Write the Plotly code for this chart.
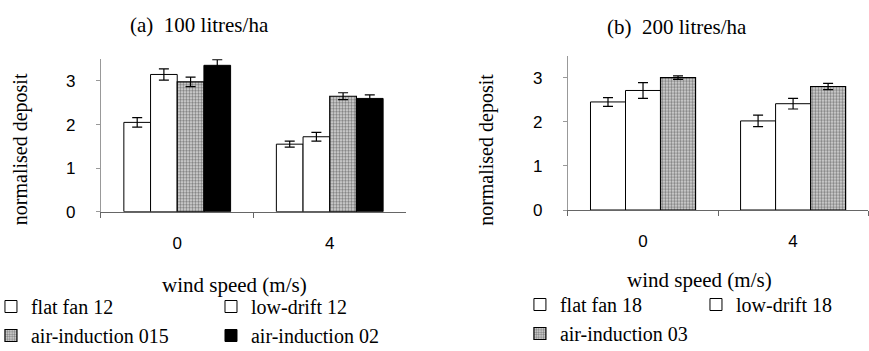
import plotly.graph_objects as go

# ---------------- data ----------------
wind_speed = ["0", "4"]

# (a) 100 litres/ha
a_names = ["flat fan 12", "low-drift 12", "air-induction 015", "air-induction 02"]
a_values = [[2.05, 1.55], [3.15, 1.72], [2.98, 2.65], [3.36, 2.60]]
a_errors = [[0.11, 0.07], [0.13, 0.10], [0.11, 0.08], [0.13, 0.08]]

# (b) 200 litres/ha
b_names = ["flat fan 18", "low-drift 18", "air-induction 03"]
b_values = [[2.45, 2.02], [2.71, 2.41], [3.00, 2.80]]
b_errors = [[0.10, 0.13], [0.18, 0.12], [0.04, 0.07]]

y_ticks = [0, 1, 2, 3]

SERIF = "Liberation Serif, Times New Roman, serif"
SANS = "Liberation Sans, Arial, sans-serif"

plain = dict(color="white", line=dict(color="black", width=1))
speckle = dict(color="white", line=dict(color="black", width=1.2),
               pattern=dict(shape=".", fgcolor="#222222", bgcolor="#dcdcdc",
                            size=3, solidity=0.5))
solid = dict(color="black", line=dict(color="black", width=1))
a_styles = [plain, plain, speckle, solid]
b_styles = [plain, plain, speckle]

# one legend box per entry, so the two-column layout of the original can be kept
a_legends = ["legend2", "legend3", "legend4", "legend5"]
b_legends = ["legend6", "legend7", "legend8"]

fig = go.Figure()
for name, vals, errs, st, lg in zip(a_names, a_values, a_errors, a_styles, a_legends):
    fig.add_trace(go.Bar(
        x=wind_speed, y=vals, name=name, marker=st, showlegend=True,
        error_y=dict(type="data", array=errs, color="black", thickness=1.2, width=5),
        xaxis="x", yaxis="y", legend=lg, offsetgroup=name,
    ))
for name, vals, errs, st, lg in zip(b_names, b_values, b_errors, b_styles, b_legends):
    fig.add_trace(go.Bar(
        x=wind_speed, y=vals, name=name, marker=st, showlegend=True,
        error_y=dict(type="data", array=errs, color="black", thickness=1.2, width=5),
        xaxis="x2", yaxis="y2", legend=lg, offsetgroup=name,
    ))

xa = dict(type="category", showline=True, linecolor="#666666", linewidth=1,
          ticks="outside", ticklen=5, tickcolor="#666666", tickson="boundaries",
          tickfont=dict(family=SANS, size=17, color="black"),
          ticklabelstandoff=16, showgrid=False, zeroline=False, fixedrange=True)
ya = dict(range=[0, 3.5], tickvals=y_ticks, showline=True, linecolor="#999999",
          linewidth=1, ticks="outside", ticklen=4, tickcolor="#999999",
          tickfont=dict(family=SANS, size=17, color="black"),
          ticklabelstandoff=17, showgrid=False, zeroline=False, fixedrange=True)

LEG_FONT = dict(family=SERIF, size=20, color="black")


def leg(x, y):
    return dict(orientation="h", x=x, y=y, xanchor="left", yanchor="top",
                font=LEG_FONT, bgcolor="rgba(0,0,0,0)", itemwidth=30)


def note(text, x, y, size=21, angle=0):
    return dict(text=text, x=x, y=y, xref="paper", yref="paper",
                xanchor="center", yanchor="middle", textangle=angle,
                showarrow=False, font=dict(family=SERIF, size=size, color="black"))


fig.update_layout(
    width=869, height=351,
    margin=dict(l=0, r=0, t=0, b=0, autoexpand=False),
    paper_bgcolor="white", plot_bgcolor="white",
    barmode="group", bargap=0.3, bargroupgap=0, showlegend=True,
    xaxis=dict(xa, domain=[0.1162, 0.4672], anchor="y"),
    yaxis=dict(ya, domain=[0.3969, 0.8313], anchor="x"),
    xaxis2=dict(xa, domain=[0.6536, 0.999], anchor="y2"),
    yaxis2=dict(ya, domain=[0.4017, 0.8415], anchor="x2"),
    legend2=leg(-0.0104, 0.1823),
    legend3=leg(0.2428, 0.1823),
    legend4=leg(-0.0104, 0.0997),
    legend5=leg(0.2428, 0.0997),
    legend6=leg(0.5983, 0.188),
    legend7=leg(0.8009, 0.188),
    legend8=leg(0.5983, 0.1054),
    annotations=[
        note("(a)\u00a0\u00a0100 litres/ha", 0.230, 0.929),
        note("(b)\u00a0\u00a0200 litres/ha", 0.779, 0.923),
        note("normalised deposit", 0.023, 0.575, size=20, angle=-90),
        note("normalised deposit", 0.560, 0.572, size=20, angle=-90),
        note("wind speed (m/s)", 0.270, 0.188),
        note("wind speed (m/s)", 0.8055, 0.202),
    ],
)

fig.write_html("out.html", config={"displayModeBar": False},
               post_script="document.body.style.margin='0';")
